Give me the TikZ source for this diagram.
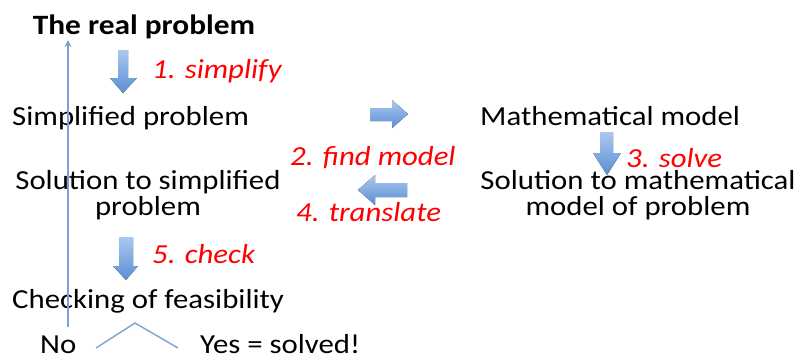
\documentclass[tikz,border=0pt]{standalone}
\usepackage{fontspec}
\setmainfont[FakeStretch=1.12]{Carlito}
\usetikzlibrary{arrows.meta}
\begin{document}
\begin{tikzpicture}[x=1pt,y=-1pt,
  lbl/.style={font=\fontsize{27.5}{26}\selectfont, inner sep=0pt, align=center, anchor=base},
  act/.style={font=\fontsize{27.5}{26}\selectfont\itshape, text=red, inner sep=0pt, anchor=base west}
]
\definecolor{arrlight}{HTML}{ABC8EE}
\definecolor{arrdark}{HTML}{5A8ED6}
\definecolor{lineblue}{HTML}{7BA3CF}
\tikzset{barrow/.style={draw=none, top color=arrlight, bottom color=arrdark},
  thinline/.style={draw=lineblue, line width=1.4pt}}
\useasboundingbox (0,0) rectangle (798,360);

\node[lbl, font=\fontsize{28}{26}\selectfont\bfseries] (real) at (144,34) {The real problem};
\node[lbl, anchor=base west] (simp) at (12,125) {Simplified problem};
\node[lbl, anchor=base west] (math) at (480,125) {Mathematical model};
\node[lbl] (solsimp) at (148,215) {Solution to simplified\\problem};
\node[lbl] (solmath) at (638,215) {Solution to mathematical\\model of problem};
\node[lbl, anchor=base west] (check) at (12,308) {Checking of feasibility};
\node[lbl, anchor=base west] (no) at (40,353) {No};
\node[lbl, anchor=base west] (yes) at (200,353) {Yes = solved!};

\node[act] (a1) at (152,78) {1. simplify};
\node[act] (a2) at (290,165) {2. find model};
\node[act] (a3) at (626,167) {3. solve};
\node[act] (a4) at (296,221) {4. translate};
\node[act] (a5) at (152,263) {5. check};

% block arrows
% down 1
\fill[barrow] (118,50) -- (128,50) -- (128,78) -- (137,78) -- (123,93) -- (110,78) -- (118,78) -- cycle;
% right
\fill[barrow] (370,108) -- (392,108) -- (392,100) -- (408,114) -- (392,128) -- (392,121) -- (370,121) -- cycle;
% down 3
\fill[barrow] (600,132) -- (613,132) -- (613,153) -- (621,153) -- (607,175) -- (593,153) -- (600,153) -- cycle;
% left
\fill[barrow] (407,183) -- (375,183) -- (375,175) -- (358,190) -- (375,205) -- (375,197) -- (407,197) -- cycle;
% down 5
\fill[barrow] (119,237) -- (133,237) -- (133,266) -- (138,266) -- (126,280) -- (113,266) -- (119,266) -- cycle;

% feedback line
\coordinate (fb) at (68,327);
\draw[thinline, -{Stealth[length=7pt,width=7pt]}] (fb) -- (68,40);
% caret
\coordinate (cl) at (96,348);
\coordinate (cp) at (135,323);
\coordinate (cr) at (178,348);
\draw[thinline] (cl) -- (cp) -- (cr);
\end{tikzpicture}
\end{document}
